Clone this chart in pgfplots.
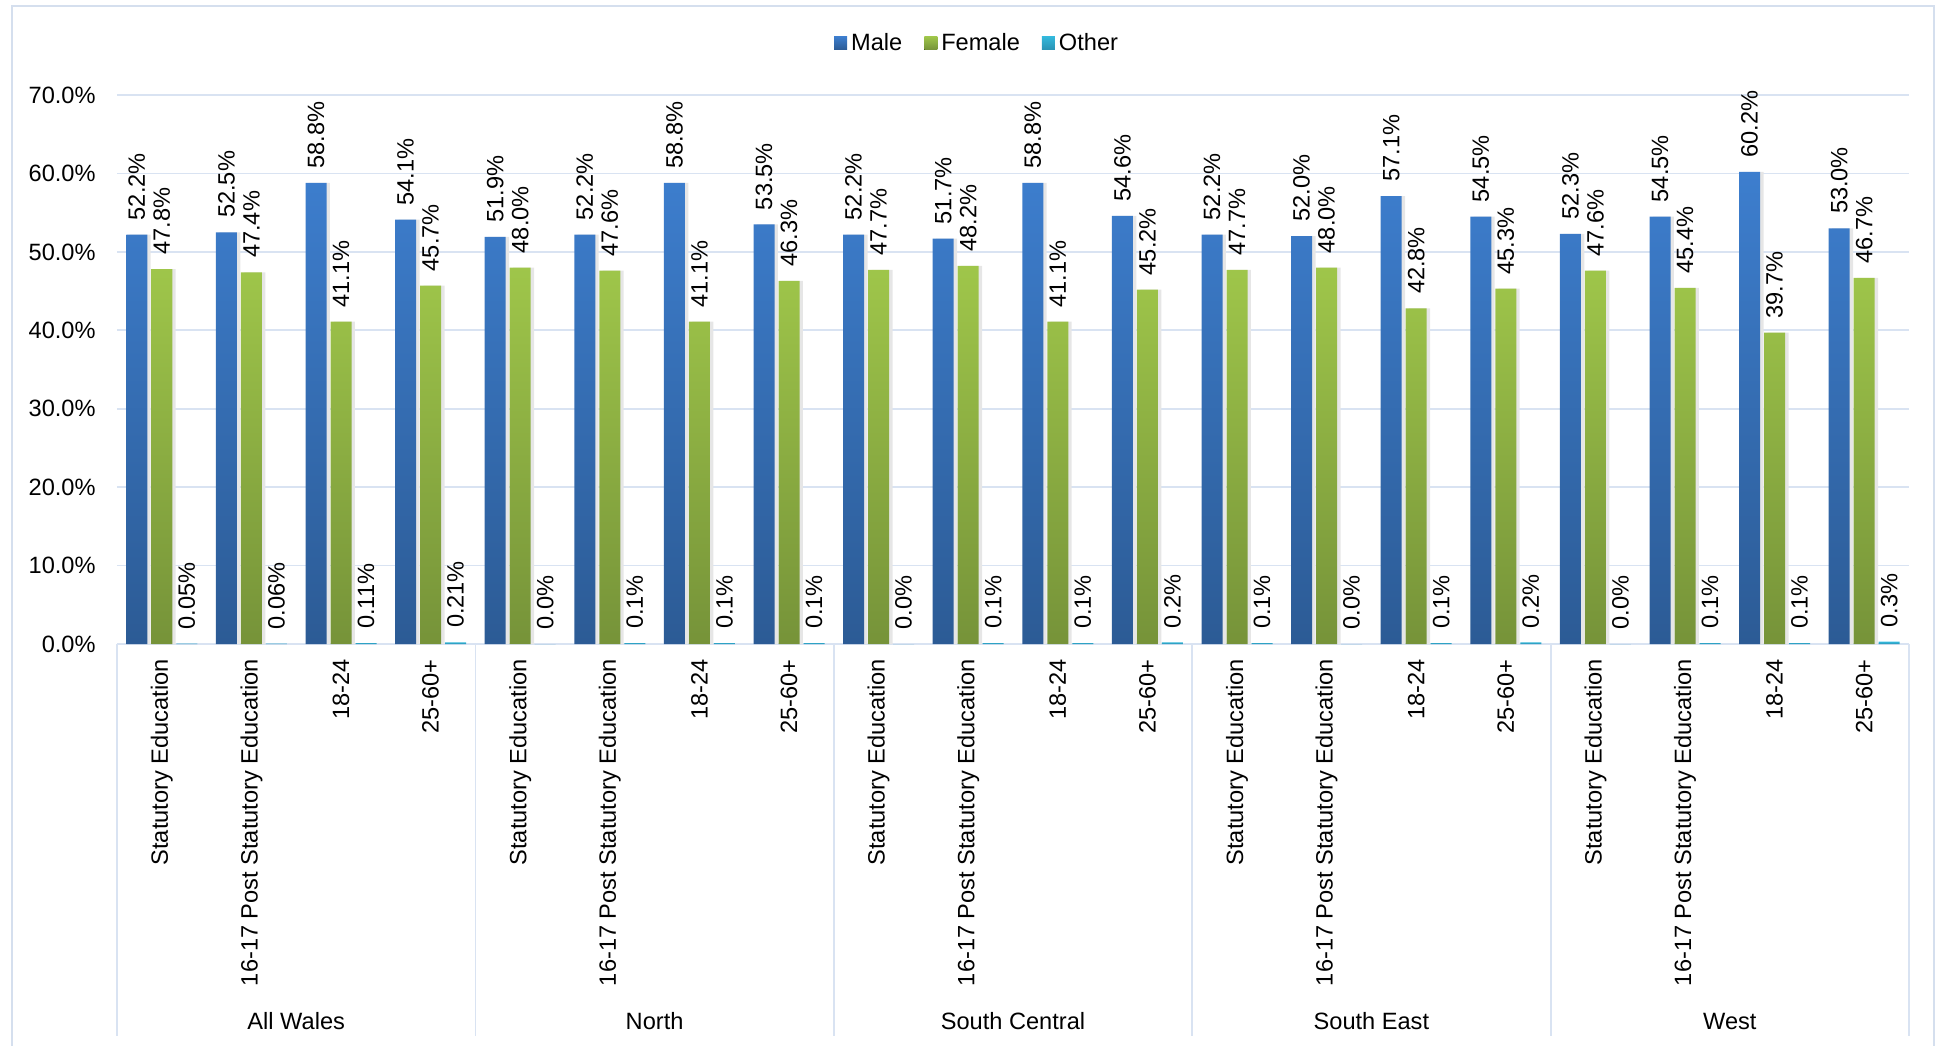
\documentclass[border=0pt]{standalone}
\usepackage{pgfplots}
\pgfplotsset{compat=1.18}
\usepackage{pgfplotstable}
\usepackage{fontspec}
\setmainfont{Liberation Sans}
\definecolor{gridc}{HTML}{D9E3F2}
\definecolor{framec}{HTML}{D5DFEE}
\definecolor{mtop}{HTML}{3D7ECE}
\definecolor{mbot}{HTML}{2C5B95}
\definecolor{ftop}{HTML}{9FC64A}
\definecolor{fbot}{HTML}{769339}
\definecolor{otop}{HTML}{33B8DC}
\definecolor{obot}{HTML}{2A93B4}
\definecolor{shad}{HTML}{E6E6E6}

\pgfplotstableread{
x m f o
0 52.2 47.8 0.05
1 52.5 47.4 0.06
2 58.8 41.1 0.11
3 54.1 45.7 0.21
4 51.9 48.0 0.0
5 52.2 47.6 0.1
6 58.8 41.1 0.1
7 53.5 46.3 0.1
8 52.2 47.7 0.0
9 51.7 48.2 0.1
10 58.8 41.1 0.1
11 54.6 45.2 0.2
12 52.2 47.7 0.1
13 52.0 48.0 0.0
14 57.1 42.8 0.1
15 54.5 45.3 0.2
16 52.3 47.6 0.0
17 54.5 45.4 0.1
18 60.2 39.7 0.1
19 53.0 46.7 0.3
}\data

\begin{document}
\begin{tikzpicture}[font=\fontsize{11.8}{14}\selectfont]
\useasboundingbox (0,0) rectangle (969.5pt,-522.5pt);
\draw[framec, line width=1pt] (6pt,-540pt) -- (6pt,-3pt) -- (967pt,-3pt) -- (967pt,-540pt);
\begin{axis}[
  at={(58.5pt,-322pt)}, anchor=south west,
  scale only axis, width=896pt, height=274.5pt,
  xmin=-0.5, xmax=19.5, ymin=0, ymax=70,
  axis lines*=left,
  x axis line style={draw=gridc, line width=0.9pt},
  y axis line style={draw=none},
  ymajorgrids, grid style={draw=gridc, line width=0.9pt},
  major tick length=0pt,
  ytick={0,10,20,30,40,50,60,70},
  yticklabels={0.0\%,10.0\%,20.0\%,30.0\%,40.0\%,50.0\%,60.0\%,70.0\%},
  yticklabel style={anchor=east, inner sep=0pt, xshift=-10.5pt, text=black},
  xtick={0,1,...,19},
  xticklabels={Statutory Education,16-17 Post Statutory Education,18-24,25-60+,
               Statutory Education,16-17 Post Statutory Education,18-24,25-60+,
               Statutory Education,16-17 Post Statutory Education,18-24,25-60+,
               Statutory Education,16-17 Post Statutory Education,18-24,25-60+,
               Statutory Education,16-17 Post Statutory Education,18-24,25-60+},
  xticklabel style={rotate=90, anchor=east, inner xsep=7.5pt, inner ysep=0pt, text=black},
  clip=false,
  legend style={at={(0.4805,1.0947)}, anchor=center, draw=none, fill=none,
    legend columns=3, /tikz/every even column/.append style={column sep=9pt},
    inner sep=0pt},
  legend image code/.code={\fill[#1] (0pt,-3.25pt) rectangle (6.5pt,3.25pt);},
]
% soft shadows
\addplot[forget plot, ybar, bar width=10.5pt, bar shift=-10.8pt, draw=none, fill=shad]
  table[x=x, y=m]{\data};
\addplot[forget plot, ybar, bar width=10.5pt, bar shift=1.7pt, draw=none, fill=shad]
  table[x=x, y=f]{\data};

\addplot[ybar, bar width=10.5pt, bar shift=-12.5pt, draw=none, top color=mtop, bottom color=mbot,
  point meta=explicit symbolic, nodes near coords={\pgfplotspointmeta\%},
  every node near coord/.style={xshift=-12.5pt, rotate=90, anchor=west, inner xsep=7pt, inner ysep=0pt, text=black}]
  table[x=x, y=m, meta=m]{\data};
\addlegendentry{Male}
\addplot[ybar, bar width=10.5pt, bar shift=0pt, draw=none, top color=ftop, bottom color=fbot,
  point meta=explicit symbolic, nodes near coords={\pgfplotspointmeta\%},
  every node near coord/.style={rotate=90, anchor=west, inner xsep=7pt, inner ysep=0pt, text=black}]
  table[x=x, y=f, meta=f]{\data};
\addlegendentry{Female}
\addplot[ybar, bar width=10.5pt, bar shift=12.5pt, draw=none, top color=otop, bottom color=obot,
  point meta=explicit symbolic, nodes near coords={\pgfplotspointmeta\%},
  every node near coord/.style={xshift=12.5pt, rotate=90, anchor=west, inner xsep=7pt, inner ysep=0pt, text=black}]
  table[x=x, y=o, meta=o]{\data};
\addlegendentry{Other}

\draw[gridc, line width=0.9pt] (axis cs:-0.5,0) -- ++(0pt,-196pt);
\draw[gridc, line width=0.9pt] (axis cs:3.5,0) -- ++(0pt,-196pt);
\draw[gridc, line width=0.9pt] (axis cs:7.5,0) -- ++(0pt,-196pt);
\draw[gridc, line width=0.9pt] (axis cs:11.5,0) -- ++(0pt,-196pt);
\draw[gridc, line width=0.9pt] (axis cs:15.5,0) -- ++(0pt,-196pt);
\draw[gridc, line width=0.9pt] (axis cs:19.5,0) -- ++(0pt,-196pt);

\node[text=black] at ([yshift=-188.5pt]axis cs:1.5,0) {All Wales};
\node[text=black] at ([yshift=-188.5pt]axis cs:5.5,0) {North};
\node[text=black] at ([yshift=-188.5pt]axis cs:9.5,0) {South Central};
\node[text=black] at ([yshift=-188.5pt]axis cs:13.5,0) {South East};
\node[text=black] at ([yshift=-188.5pt]axis cs:17.5,0) {West};
\end{axis}
\end{tikzpicture}
\end{document}
